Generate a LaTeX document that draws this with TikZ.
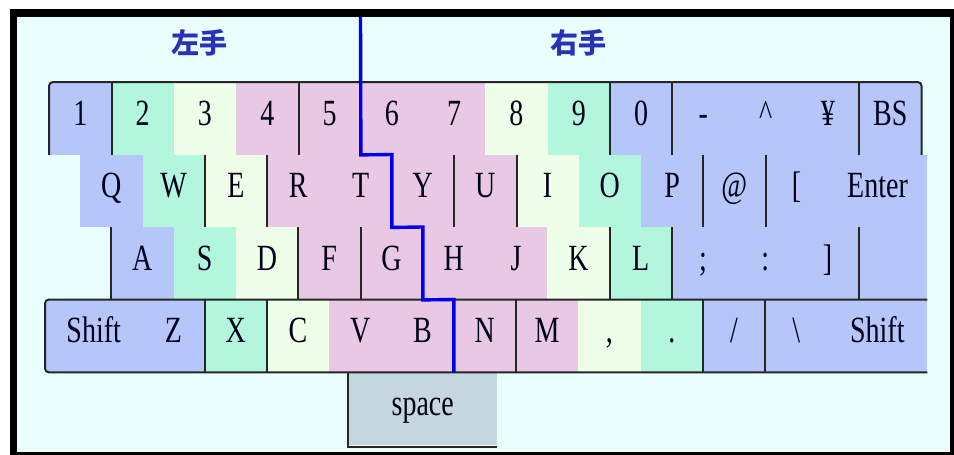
\documentclass[tikz,border=0pt]{standalone}
\usepackage{fontspec}
\usepackage{graphicx}
\setmainfont{Liberation Serif}
\newfontfamily\cjkfont{Noto Sans CJK JP}
\definecolor{pinky}{RGB}{182,198,248}
\definecolor{ring}{RGB}{178,246,222}
\definecolor{middle}{RGB}{238,254,232}
\definecolor{index}{RGB}{232,200,228}
\definecolor{spacebar}{RGB}{198,214,222}
\definecolor{paper}{RGB}{234,254,254}
\definecolor{hand}{RGB}{40,50,185}
\definecolor{divide}{RGB}{0,0,235}
\newcommand{\comma}{,}
\newcommand{\slashmark}{/}
\newcommand{\keytxt}[1]{\scalebox{1}[1.32]{#1}}

\begin{document}
\begin{tikzpicture}[x=1pt,y=-1pt,
    key/.style={anchor=north west,inner sep=0pt,minimum height=72.5pt,
      text height=20pt,text depth=6pt,text=black!90!blue,
      font=\fontsize{28}{28}\selectfont},
    sep/.style={draw=black!85,line width=2pt},
    hand label/.style={text=hand,font=\cjkfont\bfseries\fontsize{28}{28}\selectfont}]
    \useasboundingbox (0,0) rectangle (954,455);
    \fill[white] (0,0) rectangle (954,455);
    \fill[black] (10,9) rectangle (954,455);
    \fill[paper] (17,17) rectangle (950,452);
    % hands
    \node[hand label] (lefthand) at (199,43) {左手};
    \node[hand label] (righthand) at (578,43) {右手};
    % number row
    \foreach \t/\n/\c [count=\i from 0] in {
      1/k1/pinky, 2/k2/ring, 3/k3/middle, 4/k4/index, 5/k5/index,
      6/k6/index, 7/k7/index, 8/k8/middle, 9/k9/ring, 0/k0/pinky,
      -/kMinus/pinky, \textasciicircum/kCaret/pinky, ¥/kYen/pinky, BS/kBS/pinky}
    {
      \node[key,fill=\c,minimum width=62.3pt] (\n) at ({49+62.3*\i},82) {\keytxt{\t}};
    }
    % upper row
    \foreach \t/\n/\c [count=\i from 0] in {
      Q/kQ/pinky, W/kW/ring, E/kE/middle, R/kR/index, T/kT/index,
      Y/kY/index, U/kU/index, I/kI/middle, O/kO/ring, P/kP/pinky,
      @/kAt/pinky, {[}/kLbrack/pinky}
    {
      \node[key,fill=\c,minimum width=62.3pt] (\n) at ({80+62.3*\i},154.5) {\keytxt{\t}};
    }
    \node[key,fill=pinky,minimum width=99.4pt] (kEnter) at (827.6,154.5) {\keytxt{Enter}};
    % home row
    \foreach \t/\n/\c [count=\i from 0] in {
      A/kA/pinky, S/kS/ring, D/kD/middle, F/kF/index, G/kG/index,
      H/kH/index, J/kJ/index, K/kK/middle, L/kL/ring, ;/kSemi/pinky,
      :/kColon/pinky, {]}/kRbrack/pinky}
    {
      \node[key,fill=\c,minimum width=62.3pt] (\n) at ({111+62.3*\i},227) {\keytxt{\t}};
    }
    \node[key,fill=pinky,minimum width=68.4pt] (kEnterLow) at (858.6,227) {};
    % lower row
    \node[key,fill=pinky,minimum width=97pt] (kShiftL) at (45,299.5) {\keytxt{Shift}};
    \foreach \t/\n/\c [count=\i from 0] in {
      Z/kZ/pinky, X/kX/ring, C/kC/middle, V/kV/index, B/kB/index,
      N/kN/index, M/kM/index, \comma/kComma/middle, ./kDot/ring,
      \slashmark/kSlash/pinky, \textbackslash/kBslash/pinky}
    {
      \node[key,fill=\c,minimum width=62.3pt] (\n) at ({142+62.3*\i},299.5) {\keytxt{\t}};
    }
    \node[key,fill=pinky,minimum width=99.7pt] (kShiftR) at (827.3,299.5) {\keytxt{Shift}};
    \node[key,fill=spacebar,minimum width=149pt] (kSpace) at (348,372) {\keytxt{space}};
    % key outlines
    \draw[sep,rounded corners=4pt] (k1.south west) -- (k1.north west) -- (kBS.north east) -- (kBS.south east);
    \foreach \n in {k1,k4,k5,k9,k0,kYen}
      \draw[sep] (\n.north east) -- (\n.south east);
    \foreach \n in {kW,kE,kY,kU,kP,kAt}
      \draw[sep] (\n.north east) -- (\n.south east);
    \draw[sep] (kA.north west) -- (kA.south west);
    \foreach \n in {kD,kF,kK,kL,kRbrack}
      \draw[sep] (\n.north east) -- (\n.south east);
    \draw[sep,rounded corners=4pt] (kShiftR.north east) -- (kShiftL.north west) -- (kShiftL.south west) -- (kShiftR.south east);
    \foreach \n in {kZ,kX,kN,kDot,kSlash}
      \draw[sep] (\n.north east) -- (\n.south east);
    \draw[sep] (kSpace.north west) -- ([yshift=-2pt]kSpace.south west) -- ([yshift=-2pt]kSpace.south east);
    % left / right hand border
    \coordinate (divtop) at (360.5,17);
    \draw[divide,line width=3.4pt] (divtop) -- (k5.south east) -- (kT.north east) -- (kT.south east)
      -- (kG.north east) -- (kG.south east) -- (kB.north east) -- (kB.south east);
\end{tikzpicture}
\end{document}
